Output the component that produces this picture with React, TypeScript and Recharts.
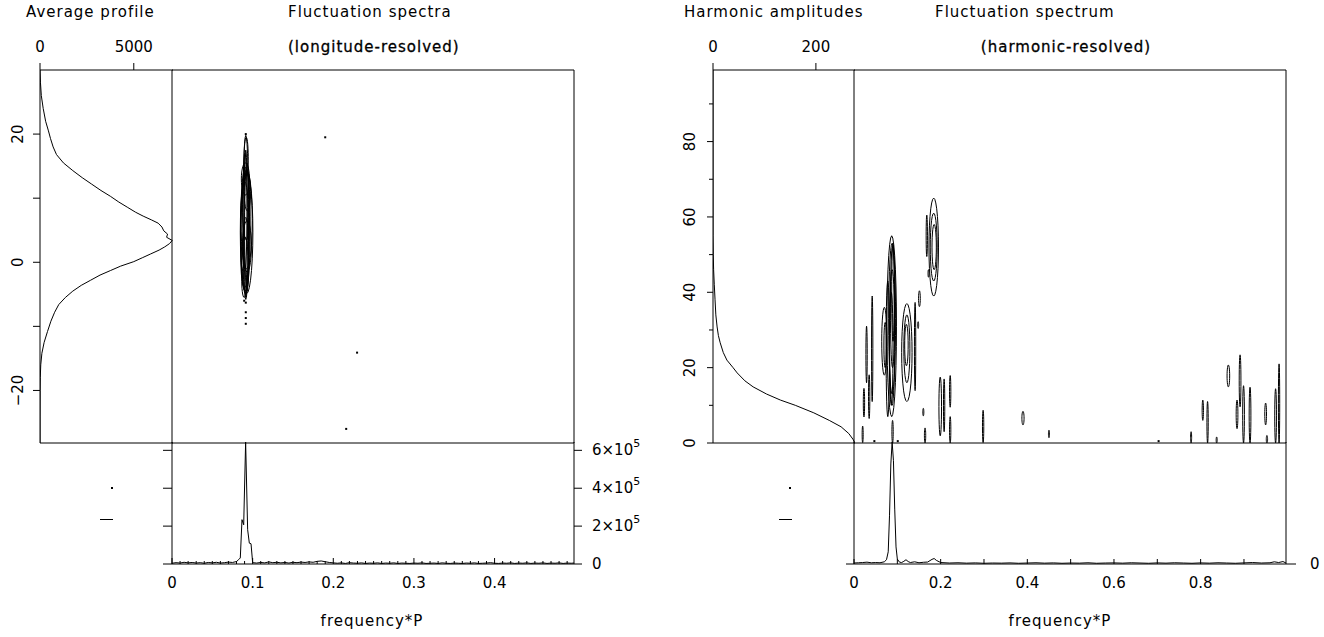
import React from 'react';
import { ScatterChart, Scatter, XAxis, YAxis } from 'recharts';

const FONT = '"DejaVu Sans", "Liberation Sans", sans-serif';
const FS = 15;
const INK = '#000';
const PAD = 100;

// ---- left figure: longitude-resolved ----
// average profile: longitude (deg) and intensity
const profileLon = [30, 28, 26, 24, 22, 20.5, 19.3, 18, 16.8, 15.5, 14.3, 13.2, 12.2, 11.2, 10.3, 9.4, 8.6, 7.8, 7.2, 6.6, 6.1, 5.5, 4.9, 4.4, 3.9, 3.4, 2.9, 2.4, 1.9, 1.3, 0.7, 0.1, -0.6, -1.3, -2.0, -2.8, -3.6, -4.5, -5.5, -6.6, -7.8, -9.2, -10.8, -12.5, -14.2, -16, -18, -20, -24, -28.2];
const profileInt = [0, 25, 70, 170, 300, 450, 560, 700, 880, 1250, 1750, 2250, 2750, 3250, 3750, 4200, 4650, 5100, 5500, 5950, 6300, 6500, 6600, 6800, 6750, 7050, 6900, 6650, 6350, 5900, 5450, 5000, 4300, 3750, 3200, 2700, 2200, 1750, 1350, 1000, 780, 580, 400, 220, 100, 40, 15, 5, 0, 0];

// integrated LRFS
const lrfsFreq = [0, 0.005, 0.01, 0.015, 0.02, 0.025, 0.03, 0.035, 0.04, 0.045, 0.05, 0.055, 0.06, 0.065, 0.07, 0.075, 0.08,
  0.0826, 0.0847, 0.0868, 0.0889, 0.0913, 0.0938, 0.0959, 0.098, 0.1,
  0.105, 0.11, 0.115, 0.12, 0.125, 0.13, 0.135, 0.14, 0.145, 0.15, 0.155, 0.16, 0.165, 0.17, 0.175, 0.18, 0.185, 0.19, 0.195, 0.2,
  0.205, 0.21, 0.215, 0.22, 0.225, 0.23, 0.235, 0.24, 0.245, 0.25,
  0.255, 0.26, 0.265, 0.27, 0.275, 0.28, 0.285, 0.29, 0.295, 0.3,
  0.305, 0.31, 0.315, 0.32, 0.325, 0.33, 0.335, 0.34, 0.345, 0.35,
  0.355, 0.36, 0.365, 0.37, 0.375, 0.38, 0.385, 0.39, 0.395, 0.4,
  0.405, 0.41, 0.415, 0.42, 0.425, 0.43, 0.435, 0.44, 0.445, 0.45,
  0.455, 0.46, 0.465, 0.47, 0.475, 0.48, 0.485, 0.49, 0.495, 0.4985];
const lrfsPower = [4000, 7000, 5000, 9000, 6000, 8000, 5000, 7000, 4000, 8000, 6000, 9000, 5000, 7000, 10000, 8000, 13000,
  23000, 32000, 234000, 207000, 644000, 181000, 110000, 107000, 7000,
  5000, 8000, 6000, 11000, 7000, 9000, 6000, 8000, 5000, 9000, 7000, 10000, 8000, 11000, 9000, 14000, 16000, 12000, 8000, 6000,
  4000, 6000, 3000, 7000, 5000, 4000, 6000, 3000, 5000, 4000,
  6000, 3000, 5000, 4000, 6000, 3000, 5000, 4000, 3000, 5000,
  4000, 6000, 3000, 4000, 5000, 3000, 6000, 4000, 3000, 5000,
  4000, 3000, 5000, 4000, 6000, 3000, 4000, 5000, 7000, 4000,
  3000, 5000, 4000, 6000, 3000, 5000, 4000, 6000, 3000, 5000,
  4000, 6000, 3000, 5000, 4000, 6000, 3000, 5000, 4000, 5000];

// LRFS contours: [freq, longitude, half-width, half-height]
const lrfsContours = [
  [0.0915, 7.0, 0.0035, 12.8],
  [0.0925, 4.7, 0.0078, 9.6],
  [0.091, 5.0, 0.006, 9.8],
  [0.0925, 6.5, 0.007, 7.5],
  [0.0905, 4.0, 0.005, 8.5],
  [0.092, 9.0, 0.0045, 5.5],
  [0.093, 2.5, 0.0055, 4.0],
  [0.09, 0.0, 0.0045, 4.0],
  [0.0935, 11.0, 0.004, 3.0],
  [0.091, 13.0, 0.005, 2.5],
  [0.0895, -3.0, 0.003, 2.5],
  [0.092, 16.5, 0.0025, 3.0],
  [0.0915, 6.0, 0.002, 11.5],
  [0.0905, 8.0, 0.0025, 9.0],
  [0.093, 5.5, 0.003, 10.0],
  [0.0915, 1.0, 0.0035, 6.0],
];
const lrfsDots = [[0.0915, 20], [0.0915, -6.3], [0.0915, -7.8], [0.0915, -8.7], [0.0915, -9.6], [0.0895, -6.0], [0.19, 19.5], [0.2295, -14.1], [0.216, -26]];

// ---- right figure: harmonic-resolved ----
const harmNum = [0, 1, 2.5, 4.3, 6, 8, 10, 11.4, 13, 14.9, 16.5, 18.6, 20, 22, 24, 26.6, 28.5, 30.8, 34, 38, 42, 46, 50, 55, 99];
const harmAmp = [276, 272, 264, 249, 226, 196, 160, 131, 104, 78, 62, 47, 39, 27, 20, 14, 10.5, 8, 5.5, 4, 2.5, 1.2, 0.5, 0, 0];

// HRFS contours: [freq, harmonic, half-width, half-height]
const hrfsContours = [
  [0.087, 31, 0.011, 24], [0.088, 33, 0.008, 20], [0.089, 36, 0.005, 16], [0.088, 28, 0.006, 18],
  [0.09, 40, 0.003, 13], [0.086, 25, 0.004, 15], [0.078, 25, 0.004, 18], [0.089, 3, 0.0015, 3],
  [0.07, 27, 0.006, 9], [0.072, 26, 0.003, 6],
  [0.122, 24, 0.012, 13], [0.122, 25, 0.007, 9], [0.121, 26, 0.004, 5.5],
  [0.042, 25, 0.0015, 14], [0.029, 23.5, 0.0015, 7.5], [0.035, 12.3, 0.0015, 5.8], [0.023, 10.7, 0.0015, 3.8], [0.02, 2.3, 0.0012, 2.2],
  [0.141, 25.6, 0.0015, 11.7], [0.151, 38.3, 0.002, 2.1], [0.148, 31.3, 0.0012, 0.9], [0.16, 8.2, 0.0012, 1.0], [0.164, 2.0, 0.0015, 2.0],
  [0.199, 9.7, 0.003, 7.8], [0.208, 10.0, 0.0015, 7.0], [0.222, 13.7, 0.0015, 4.2], [0.222, 3.5, 0.0015, 3.5],
  [0.298, 4.4, 0.0015, 4.3], [0.39, 6.6, 0.0025, 1.8], [0.45, 2.4, 0.0012, 1.0],
  [0.184, 52, 0.011, 13], [0.184, 52, 0.008, 9], [0.185, 52, 0.005, 6], [0.168, 55, 0.0015, 5.5], [0.172, 45, 0.0012, 1],
  [0.778, 1.5, 0.0012, 1.5], [0.805, 8.7, 0.0015, 2.7], [0.816, 5.5, 0.0015, 5.5], [0.837, 0.8, 0.0012, 0.8],
  [0.864, 17.8, 0.003, 2.9], [0.884, 7.6, 0.002, 3.8], [0.891, 16.5, 0.002, 6.9], [0.899, 7.6, 0.002, 7.6],
  [0.914, 7.4, 0.002, 7.4], [0.95, 7.7, 0.002, 2.9], [0.953, 1.0, 0.0015, 1.0], [0.973, 7.2, 0.002, 7.2], [0.981, 10.5, 0.0015, 10.5],
];
const hrfsDots = [[0.703, 0.5], [0.047, 0.5], [0.101, 0.5]];

// integrated HRFS (normalised)
const hrfsFreq = [0, 0.01, 0.02, 0.03, 0.04, 0.05, 0.06,
  0.07, 0.075, 0.079, 0.082, 0.085, 0.088, 0.091, 0.094, 0.097,
  0.1, 0.105, 0.11, 0.115, 0.12, 0.125, 0.13,
  0.14, 0.15, 0.16, 0.17, 0.18, 0.185, 0.19, 0.2,
  0.22, 0.24, 0.26, 0.28, 0.3, 0.32, 0.34, 0.36, 0.38, 0.4,
  0.42, 0.44, 0.46, 0.48, 0.5, 0.52, 0.54, 0.56, 0.58, 0.6,
  0.62, 0.64, 0.66, 0.68, 0.7, 0.72, 0.74, 0.76, 0.78, 0.8,
  0.82, 0.84, 0.86, 0.88, 0.9, 0.92, 0.94, 0.96,
  0.97, 0.98, 0.99, 0.997];
const hrfsPower = [0.008, 0.01, 0.012, 0.015, 0.01, 0.012, 0.01,
  0.018, 0.035, 0.1, 0.4, 0.82, 1.0, 0.85, 0.45, 0.14,
  0.04, 0.015, 0.012, 0.022, 0.035, 0.02, 0.012,
  0.018, 0.01, 0.014, 0.016, 0.038, 0.045, 0.03, 0.012,
  0.008, 0.01, 0.007, 0.009, 0.006, 0.008, 0.007, 0.009, 0.006, 0.008,
  0.01, 0.007, 0.009, 0.006, 0.008, 0.007, 0.01, 0.006, 0.008, 0.009,
  0.007, 0.01, 0.008, 0.006, 0.009, 0.007, 0.01, 0.008, 0.006, 0.009,
  0.007, 0.01, 0.008, 0.006, 0.009, 0.012, 0.008, 0.01,
  0.018, 0.012, 0.02, 0.008];

// ticks
const lonTicks = [-20, -10, 0, 10, 20];
const lonLabels = [-20, 0, 20];
const intTicks = [0, 5000];
const powerTicks = [0, 2e5, 4e5, 6e5];
const freqLabelsL = [0, 0.1, 0.2, 0.3, 0.4];
const freqTicksL = Array.from({ length: 50 }, (_, i) => i / 100);
const harmTicks = [0, 10, 20, 30, 40, 50, 60, 70, 80, 90];
const harmLabels = [0, 20, 40, 60, 80];
const ampTicks = [0, 200];
const freqLabelsR = [0, 0.2, 0.4, 0.6, 0.8];
const freqTicksR = [0, 0.1, 0.2, 0.3, 0.4, 0.5, 0.6, 0.7, 0.8, 0.9];

const LON_DOMAIN = [-28.2, 30];
const INT_MAX = 7090;
const POW_MAX = 6.44e5;
const FREQ_MAX_L = 0.4985;
const HARM_MAX = 99;
const AMP_MAX = 276;
const FREQ_MAX_R = 0.997;

const zip = (xs: number[], ys: number[]) => xs.slice(0, Math.min(xs.length, ys.length)).map((x, i) => ({ x, y: ys[i] }));

const ring = ([f, y, rx, ry]: number[]) => {
  const pts = [];
  for (let i = 0; i <= 28; i++) {
    const a = (i / 28) * 2 * Math.PI;
    pts.push({ x: f + rx * Math.cos(a), y: y + ry * Math.sin(a) });
  }
  return pts;
};

const near = (list: number[], v: number) => list.some((m) => Math.abs(m - v) < 1e-9);

type TickOpt = {
  side: 'top' | 'bottom' | 'left' | 'right';
  major?: number[];
  len: number;
  minor?: number;
  inward?: boolean;
  labels?: number[];
  fmt?: (v: number) => React.ReactNode;
  gap?: number;
  rotate?: boolean;
};

const txt = { fontFamily: FONT, fontSize: FS, fill: INK };

function tickFor(o: TickOpt) {
  return (p: any) => {
    const v = p.payload.value;
    const len = !o.major || near(o.major, v) ? o.len : o.minor ?? o.len;
    const s = o.inward ? -1 : 1;
    const { x, y } = p;
    let x2 = x;
    let y2 = y;
    if (o.side === 'top') y2 = y - s * len;
    if (o.side === 'bottom') y2 = y + s * len;
    if (o.side === 'left') x2 = x - s * len;
    if (o.side === 'right') x2 = x + s * len;
    let label: React.ReactNode = null;
    if (o.labels && near(o.labels, v)) {
      const g = o.gap ?? 20;
      const t = o.fmt ? o.fmt(v) : String(v);
      if (o.side === 'top') label = <text x={x} y={y - g} textAnchor="middle" dominantBaseline="central" {...txt}>{t}</text>;
      if (o.side === 'bottom') label = <text x={x} y={y + g} textAnchor="middle" dominantBaseline="central" {...txt}>{t}</text>;
      if (o.side === 'right') label = <text x={x + g} y={y} textAnchor="start" dominantBaseline="central" {...txt}>{t}</text>;
      if (o.side === 'left')
        label = o.rotate ? (
          <text x={x - g} y={y} transform={`rotate(-90 ${x - g} ${y})`} textAnchor="middle" dominantBaseline="central" {...txt}>{t}</text>
        ) : (
          <text x={x - g} y={y} textAnchor="end" dominantBaseline="central" {...txt}>{t}</text>
        );
    }
    return (
      <g>
        {len > 0 && <line x1={x} y1={y} x2={x2} y2={y2} stroke={INK} strokeWidth={1} />}
        {label}
      </g>
    );
  };
}

// frame only: one invisible tick so the axis line is kept
const bare = tickFor({ side: 'bottom', len: 0 });

const fmtLon = (v: number) => (v < 0 ? `\u2212${-v}` : `${v}`);
const fmtFreq = (v: number) => (v === 0 ? '0' : v.toFixed(1));
const fmtSci = (v: number) =>
  v === 0 ? '0' : (
    <>
      {v / 1e5}×10<tspan dy={-7} fontSize={11}>5</tspan>
    </>
  );

const axisBase = {
  type: 'number' as const,
  allowDataOverflow: true,
  tickLine: false,
  tickSize: 0,
  tickMargin: 0,
  interval: 0 as const,
  stroke: INK,
  axisLine: { stroke: INK },
};

const noDot = () => <g />;
const dot = (p: any) => <rect x={p.cx - 1} y={p.cy - 1} width={2} height={2} fill={INK} />;
const lineStyle = { stroke: INK, strokeWidth: 1, fill: 'none' };

// every axis below is 1px thick, so the margin loses 1px on each side that has one
function Panel({ box, children }: { box: number[]; children: React.ReactNode }) {
  const [x0, y0, x1, y1] = box;
  const m = PAD - 1;
  return (
    <div style={{ position: 'absolute', left: x0 - PAD, top: y0 - PAD }}>
      <ScatterChart width={x1 - x0 + 2 * PAD} height={y1 - y0 + 2 * PAD} margin={{ top: m, right: m, bottom: m, left: m }}>
        {children}
      </ScatterChart>
    </div>
  );
}

// text at (x, y): x is the left edge, or the centre when centred is set
function Label({ x, y, children, heavy, centred }: { x: number; y: number; children: React.ReactNode; heavy?: boolean; centred?: boolean }) {
  return (
    <div
      style={{
        position: 'absolute',
        left: x,
        top: y,
        transform: centred ? 'translate(-50%, -50%)' : 'translateY(-50%)',
        whiteSpace: 'nowrap',
        fontFamily: FONT,
        fontSize: FS,
        color: INK,
        letterSpacing: 1,
        WebkitTextStroke: heavy ? '0.3px #000' : undefined,
      }}
    >
      {children}
    </div>
  );
}

const Mark = ({ x, y, w, h }: { x: number; y: number; w: number; h: number }) => (
  <div style={{ position: 'absolute', left: x, top: y, width: w, height: h, background: INK }} />
);

// page layout (px)
const LX0 = 40, LX1 = 172, LX2 = 574;
const RX0 = 713, RX1 = 854, RX2 = 1286;
const Y0 = 70, Y1 = 443, Y2 = 564;

export default function App() {
  const profileL = zip(profileInt, profileLon);
  const profileR = zip(harmAmp, harmNum);
  const specL = zip(lrfsFreq, lrfsPower);
  const specR = zip(hrfsFreq, hrfsPower);

  return (
    <div style={{ position: 'absolute', left: 0, top: 0, width: 1324, height: 637, background: '#fff', overflow: 'hidden' }}>
      {/* ---------- left: average profile ---------- */}
      <Panel box={[LX0, Y0, LX1, Y1]}>
        <XAxis {...axisBase} xAxisId="t" orientation="top" dataKey="x" height={1} domain={[0, INT_MAX]} ticks={intTicks}
          tick={tickFor({ side: 'top', len: 7, labels: intTicks, gap: 23 })} />
        <XAxis {...axisBase} xAxisId="b" orientation="bottom" height={1} domain={[0, INT_MAX]} ticks={intTicks}
          tick={tickFor({ side: 'bottom', len: 7 })} />
        <YAxis {...axisBase} yAxisId="l" orientation="left" dataKey="y" width={1} domain={LON_DOMAIN} ticks={lonTicks}
          tick={tickFor({ side: 'left', len: 7, labels: lonLabels, fmt: fmtLon, gap: 22, rotate: true })} />
        <Scatter xAxisId="t" yAxisId="l" data={profileL} line={lineStyle} lineType="joint" shape={noDot} isAnimationActive={false} />
      </Panel>

      {/* ---------- left: LRFS ---------- */}
      <Panel box={[LX1, Y0, LX2, Y1]}>
        <XAxis {...axisBase} xAxisId="t" orientation="top" height={1} domain={[0, FREQ_MAX_L]} ticks={[0]} tick={bare} />
        <XAxis {...axisBase} xAxisId="b" orientation="bottom" dataKey="x" height={1} domain={[0, FREQ_MAX_L]} ticks={[0]} tick={bare} />
        <YAxis {...axisBase} yAxisId="l" orientation="left" dataKey="y" width={1} domain={LON_DOMAIN} ticks={[0]} tick={bare} />
        <YAxis {...axisBase} yAxisId="r" orientation="right" width={1} domain={LON_DOMAIN} ticks={[0]} tick={bare} />
        {lrfsContours.map((c, i) => (
          <Scatter key={i} xAxisId="b" yAxisId="l" data={ring(c)} line={lineStyle} lineType="joint" shape={noDot} isAnimationActive={false} />
        ))}
        <Scatter xAxisId="b" yAxisId="l" data={lrfsDots.map(([x, y]) => ({ x, y }))} shape={dot} isAnimationActive={false} />
      </Panel>

      {/* ---------- left: integrated spectrum ---------- */}
      <Panel box={[LX1, Y1, LX2, Y2]}>
        <XAxis {...axisBase} xAxisId="b" orientation="bottom" dataKey="x" height={1} domain={[0, FREQ_MAX_L]} ticks={freqTicksL}
          tick={tickFor({ side: 'bottom', major: freqLabelsL, len: 6, minor: 3, inward: true, labels: freqLabelsL, fmt: fmtFreq, gap: 19 })} />
        <YAxis {...axisBase} yAxisId="l" orientation="left" dataKey="y" width={1} domain={[0, POW_MAX]} ticks={powerTicks}
          tick={tickFor({ side: 'left', len: 9 })} />
        <YAxis {...axisBase} yAxisId="r" orientation="right" width={1} domain={[0, POW_MAX]} ticks={powerTicks}
          tick={tickFor({ side: 'right', len: 8, labels: powerTicks, fmt: fmtSci, gap: 18 })} />
        <Scatter xAxisId="b" yAxisId="l" data={specL} line={lineStyle} lineType="joint" shape={noDot} isAnimationActive={false} />
      </Panel>

      {/* ---------- right: harmonic amplitudes ---------- */}
      <Panel box={[RX0, Y0, RX1, Y1]}>
        <XAxis {...axisBase} xAxisId="t" orientation="top" dataKey="x" height={1} domain={[0, AMP_MAX]} ticks={ampTicks}
          tick={tickFor({ side: 'top', len: 7, labels: ampTicks, gap: 23 })} />
        <XAxis {...axisBase} xAxisId="b" orientation="bottom" height={1} domain={[0, AMP_MAX]} ticks={ampTicks}
          tick={tickFor({ side: 'bottom', len: 7 })} />
        <YAxis {...axisBase} yAxisId="l" orientation="left" dataKey="y" width={1} domain={[0, HARM_MAX]} ticks={harmTicks}
          tick={tickFor({ side: 'left', major: harmLabels, len: 6, minor: 4, labels: harmLabels, gap: 23, rotate: true })} />
        <Scatter xAxisId="t" yAxisId="l" data={profileR} line={lineStyle} lineType="joint" shape={noDot} isAnimationActive={false} />
      </Panel>

      {/* ---------- right: HRFS ---------- */}
      <Panel box={[RX1, Y0, RX2, Y1]}>
        <XAxis {...axisBase} xAxisId="t" orientation="top" height={1} domain={[0, FREQ_MAX_R]} ticks={[0]} tick={bare} />
        <XAxis {...axisBase} xAxisId="b" orientation="bottom" dataKey="x" height={1} domain={[0, FREQ_MAX_R]} ticks={[0]} tick={bare} />
        <YAxis {...axisBase} yAxisId="l" orientation="left" dataKey="y" width={1} domain={[0, HARM_MAX]} ticks={[0]} tick={bare} />
        <YAxis {...axisBase} yAxisId="r" orientation="right" width={1} domain={[0, HARM_MAX]} ticks={[0]} tick={bare} />
        {hrfsContours.map((c, i) => (
          <Scatter key={i} xAxisId="b" yAxisId="l" data={ring(c)} line={lineStyle} lineType="joint" shape={noDot} isAnimationActive={false} />
        ))}
        <Scatter xAxisId="b" yAxisId="l" data={hrfsDots.map(([x, y]) => ({ x, y }))} shape={dot} isAnimationActive={false} />
      </Panel>

      {/* ---------- right: integrated spectrum ---------- */}
      <Panel box={[RX1, Y1, RX2, Y2]}>
        <XAxis {...axisBase} xAxisId="b" orientation="bottom" dataKey="x" height={1} domain={[0, FREQ_MAX_R]} ticks={freqTicksR}
          tick={tickFor({ side: 'bottom', len: 5, inward: true, labels: freqLabelsR, fmt: fmtFreq, gap: 19 })} />
        <YAxis {...axisBase} yAxisId="l" orientation="left" dataKey="y" width={1} domain={[0, 1]} ticks={[0]}
          tick={tickFor({ side: 'left', len: 8 })} />
        <YAxis {...axisBase} yAxisId="r" orientation="right" width={1} domain={[0, 1]} ticks={[0]}
          tick={tickFor({ side: 'right', len: 10, labels: [0], gap: 24 })} />
        <Scatter xAxisId="b" yAxisId="l" data={specR} line={lineStyle} lineType="joint" shape={noDot} isAnimationActive={false} />
      </Panel>

      {/* odd little marks in the empty corners */}
      <Mark x={111} y={487} w={2} h={2} />
      <Mark x={100} y={519} w={13} h={1} />
      <Mark x={789} y={487} w={2} h={2} />
      <Mark x={779} y={519} w={13} h={1} />

      <Label x={26} y={12}>Average profile</Label>
      <Label x={288} y={12}>Fluctuation spectra</Label>
      <Label x={288} y={47} heavy>(longitude-resolved)</Label>
      <Label x={684} y={12}>Harmonic amplitudes</Label>
      <Label x={935} y={12}>Fluctuation spectrum</Label>
      <Label x={1066} y={47} heavy centred>(harmonic-resolved)</Label>
      <Label x={372} y={621} centred>frequency*P</Label>
      <Label x={1060} y={621} centred>frequency*P</Label>
    </div>
  );
}
